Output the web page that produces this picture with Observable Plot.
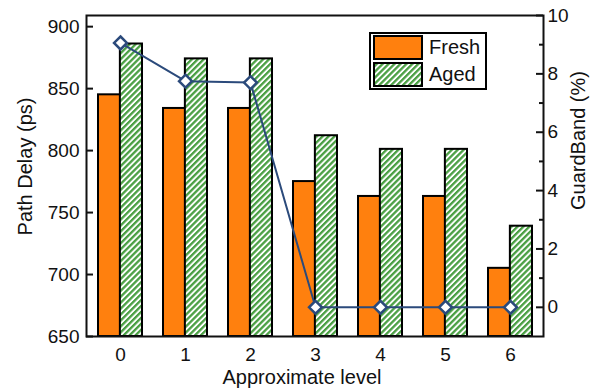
<!DOCTYPE html>
<html>
<head>
<meta charset="utf-8">
<script src="https://cdn.jsdelivr.net/npm/d3@7"></script>
<script src="https://cdn.jsdelivr.net/npm/@observablehq/plot@0.6"></script>
<style>
  html, body { margin: 0; padding: 0; background: #fff; }
  #wrap { position: relative; width: 599px; height: 392px; font-family: "Liberation Sans", Arial, sans-serif; }
  #legend { position: absolute; left: 369px; top: 32px; width: 114px; height: 54px; border: 2px solid #000; background: #fff; box-sizing: content-box; }
  .item { position: absolute; left: 2px; display: flex; align-items: center; font-size: 20px; color: #111; }
  .sw { width: 50px; height: 25px; border: 2px solid #000; box-sizing: border-box; margin-right: 6px; }
</style>
</head>
<body>
<svg width="0" height="0" style="position:absolute">
  <defs>
    <pattern id="hatch" patternUnits="userSpaceOnUse" width="4.2" height="4.2" patternTransform="rotate(45)">
      <rect width="4.2" height="4.2" fill="#ffffff"></rect>
      <rect width="2.3" height="4.2" fill="#4a9f43"></rect>
    </pattern>
  </defs>
</svg>
<div id="wrap">
  <div id="chart"></div>
  <div id="legend">
    <div class="item" style="top:1px"><div class="sw" style="background:#ff800e"></div>Fresh</div>
    <div class="item" style="top:28px"><div class="sw"><svg width="46" height="21" style="display:block"><rect width="46" height="21" fill="url(#hatch)"></rect></svg></div>Aged</div>
  </div>
</div>
<script>
const levels = [0, 1, 2, 3, 4, 5, 6];
const fresh = [845, 834, 834, 775, 763, 763, 705];
const aged = [886, 874, 874, 812, 801, 801, 739];
const guardBand = [9.06, 7.75, 7.7, 0, 0, 0, 0];
const leftTicks = [650, 700, 750, 800, 850, 900];
const rightTicks = [0, 2, 4, 6, 8, 10];
const rightMinor = [1, 3, 5, 7, 9];

const W = 599, H = 392, mL = 86, mR = 56, mT = 15, mB = 56;
const yDomain = [650, 909];
const gDomain = [-1, 10];
const g2y = d3.scaleLinear(gDomain, yDomain);

const rows = levels.map((l, i) => ({level: l, fresh: fresh[i], aged: aged[i], g: g2y(guardBand[i])}));

const pIn = 0.33, pOut = 0.165;
const step = (W - mL - mR) / (levels.length - pIn + 2 * pOut);
const bw = step * (1 - pIn);
const inner = W - mL - mR;

const font = '"Liberation Sans", Arial, sans-serif';
const lineColor = "#2b4a7b";

const chart = Plot.plot({
  width: W, height: H,
  marginLeft: mL, marginRight: mR, marginTop: mT, marginBottom: mB,
  style: {fontFamily: font, fontSize: "19px", color: "#111", background: "#fff"},
  x: {type: "band", domain: levels, paddingInner: pIn, paddingOuter: pOut},
  y: {domain: yDomain},
  marks: [
    Plot.barY(rows, {x: "level", y1: 650, y2: "fresh", fill: "#ff800e", stroke: "#000", strokeWidth: 2, insetRight: bw / 2}),
    Plot.barY(rows, {x: "level", y1: 650, y2: "aged", fill: "url(#hatch)", stroke: "#000", strokeWidth: 2, insetLeft: bw / 2}),
    Plot.line(rows, {x: "level", y: "g", stroke: lineColor, strokeWidth: 2}),
    Plot.dot(rows, {x: "level", y: "g", symbol: "diamond2", r: 5.8, fill: "#fff", stroke: lineColor, strokeWidth: 2.5}),
    // left axis: labels + inward ticks
    Plot.axisY(leftTicks, {anchor: "left", tickSize: 0, tickPadding: 7, label: null, fontSize: 19}),
    Plot.tickY(leftTicks, {y: d => d, insetRight: inner - 7, stroke: "#111", strokeWidth: 2}),
    // right axis: labels + inward ticks
    Plot.axisY(rightTicks.map(g2y), {anchor: "right", tickSize: 0, tickPadding: 4, label: null, fontSize: 19, tickFormat: d => String(Math.round(g2y.invert(d)) + 0)}),
    Plot.tickY(rightTicks.map(g2y), {y: d => d, insetLeft: inner - 7, stroke: "#111", strokeWidth: 2}),
    Plot.tickY(rightMinor.map(g2y), {y: d => d, insetLeft: inner - 4, stroke: "#111", strokeWidth: 2}),
    // x axis
    Plot.axisX({anchor: "bottom", tickSize: 0, tickPadding: 11, label: null, fontSize: 19}),
    Plot.frame({stroke: "#111", strokeWidth: 2}),
    // axis titles
    Plot.text(["Path Delay (ps)"], {frameAnchor: "left", textAnchor: "middle", lineAnchor: "middle", rotate: -90, dx: -61, dy: -9.5, fontSize: 20, fill: "#111"}),
    Plot.text(["GuardBand (%)"], {frameAnchor: "right", textAnchor: "middle", lineAnchor: "middle", rotate: -90, dx: 35, dy: -35.5, fontSize: 20, fill: "#111"}),
    Plot.text(["Approximate level"], {frameAnchor: "bottom", textAnchor: "middle", lineAnchor: "top", dx: -13, dy: 33, fontSize: 20, fill: "#111"})
  ]
});
document.getElementById("chart").appendChild(chart);
</script>
</body>
</html>
